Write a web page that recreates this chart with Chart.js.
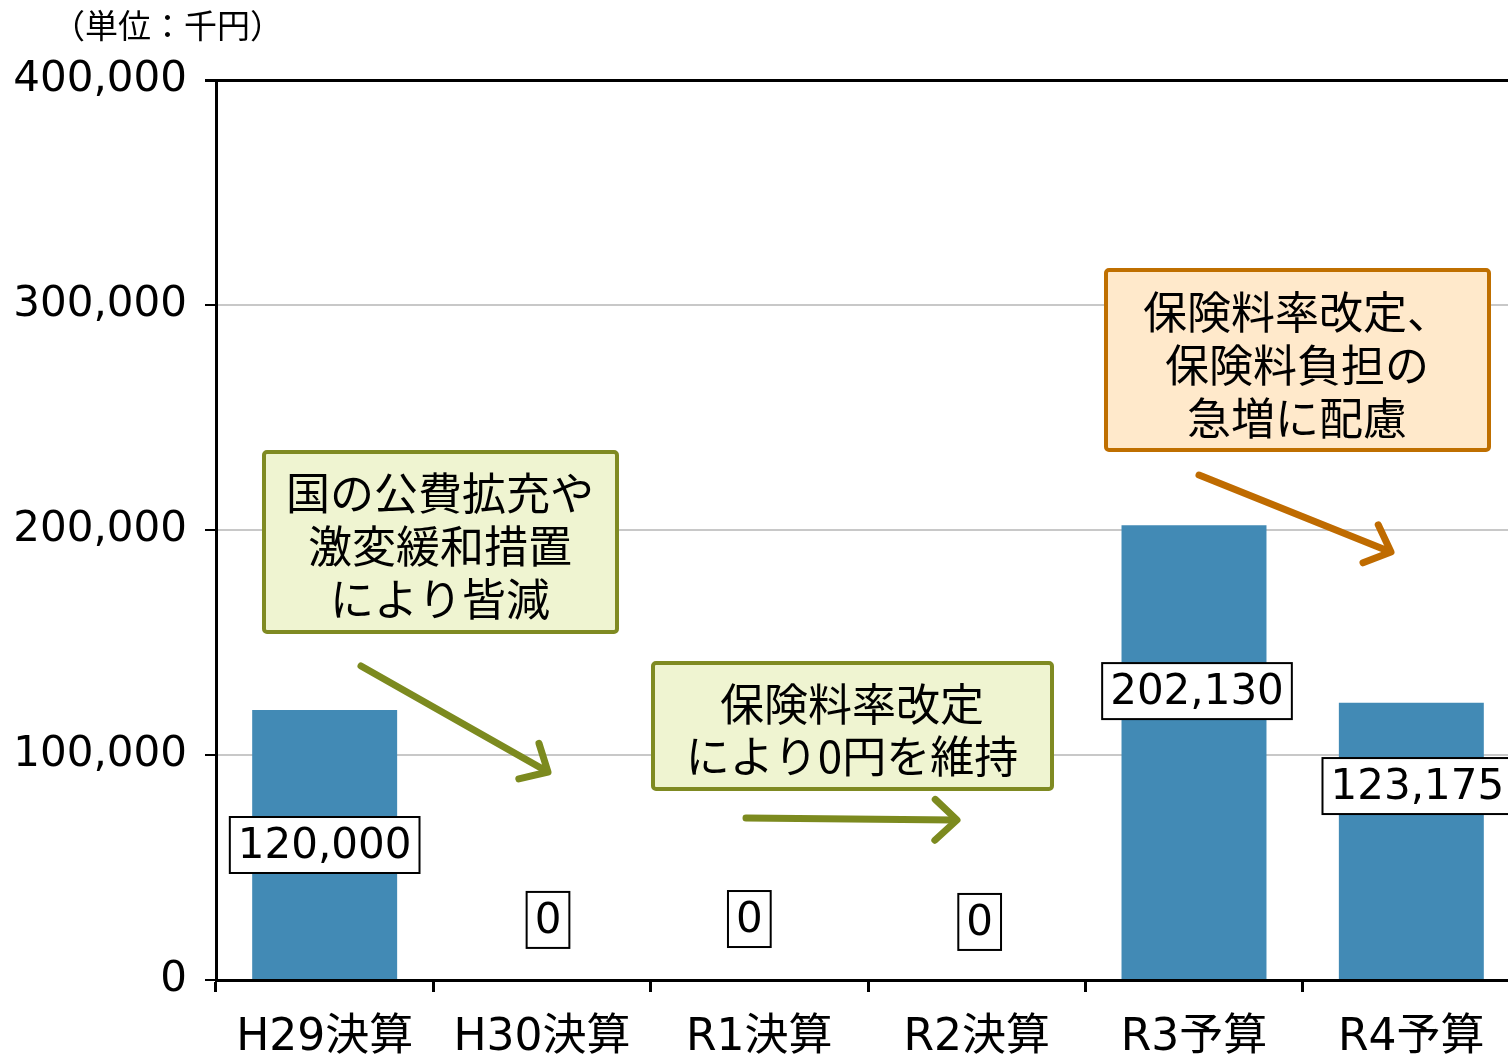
<!DOCTYPE html>
<html>
<head>
<meta charset="utf-8">
<script src="https://cdn.jsdelivr.net/npm/chart.js@4"></script>
<style>
  body { margin: 0; background: #fff; overflow: hidden; }
  #wrap { width: 1508px; height: 1055px; overflow: hidden; }
</style>
</head>
<body>
<div id="wrap"><canvas id="grafico" width="1520" height="1055"></canvas></div>
<script>
// datos
const categorias = ['H29決算', 'H30決算', 'R1決算', 'R2決算', 'R3予算', 'R4予算'];
const valores = [120000, 0, 0, 0, 202130, 123175];
const ticksY = [0, 100000, 200000, 300000, 400000];
const unidad = '（単位：千円）';
const nota1 = ['国の公費拡充や', '激変緩和措置', 'により皆減'];
const nota2 = ['保険料率改定', 'により0円を維持'];
const nota3 = ['保険料率改定、', '保険料負担の', '急増に配慮'];

const JP = '"Noto Sans CJK JP", sans-serif';
const NUM = '"DejaVu Sans", "Noto Sans CJK JP", sans-serif';

const etiquetas = {
    id: 'etiquetas',
    afterDatasetsDraw(chart, args, opts) {
        const ctx = chart.ctx;
        const meta = chart.getDatasetMeta(0);
        const y = chart.scales.y;
        ctx.save();
        ctx.font = opts.font;
        meta.data.forEach((bar, i) => {
            let txt = valores[i].toLocaleString('en-US');
            let cx = bar.x + opts.dx[i];
            let cy = y.getPixelForValue(opts.at[i]);
            let w = ctx.measureText(txt).width + 2 * opts.padX;
            let h = opts.h;
            ctx.fillStyle = '#fff';
            ctx.fillRect(cx - w / 2, cy - h / 2, w, h);
            ctx.strokeStyle = '#000';
            ctx.lineWidth = 2;
            ctx.strokeRect(cx - w / 2, cy - h / 2, w, h);
            ctx.fillStyle = '#000';
            ctx.textAlign = 'center';
            ctx.textBaseline = 'middle';
            ctx.fillText(txt, cx, cy + 2);
        });
        ctx.restore();
    }
};

function caja(ctx, x, y, w, h, borde, fondo, lineas, cx, top, paso) {
    ctx.beginPath();
    ctx.roundRect(x, y, w, h, 3);
    ctx.fillStyle = fondo;
    ctx.fill();
    ctx.lineWidth = 4;
    ctx.strokeStyle = borde;
    ctx.stroke();
    ctx.fillStyle = '#000';
    ctx.font = '44px ' + JP;
    ctx.textAlign = 'center';
    ctx.textBaseline = 'middle';
    lineas.forEach((l, i) => ctx.fillText(l, cx, top + i * paso));
}

function flecha(ctx, x1, y1, x2, y2, color) {
    let ang = Math.atan2(y2 - y1, x2 - x1);
    let L = 30, a = 0.75;
    ctx.strokeStyle = color;
    ctx.lineWidth = 7;
    ctx.lineCap = 'round';
    ctx.lineJoin = 'round';
    ctx.beginPath();
    ctx.moveTo(x1, y1);
    ctx.lineTo(x2 - 3 * Math.cos(ang), y2 - 3 * Math.sin(ang));
    ctx.stroke();
    ctx.beginPath();
    ctx.moveTo(x2 - L * Math.cos(ang - a), y2 - L * Math.sin(ang - a));
    ctx.lineTo(x2, y2);
    ctx.lineTo(x2 - L * Math.cos(ang + a), y2 - L * Math.sin(ang + a));
    ctx.stroke();
}

const notas = {
    id: 'notas',
    afterDraw(chart) {
        const ctx = chart.ctx;
        ctx.save();
        ctx.fillStyle = '#000';
        ctx.font = '33px ' + JP;
        ctx.textAlign = 'left';
        ctx.textBaseline = 'middle';
        ctx.fillText(unidad, 52, 25);

        caja(ctx, 264, 452, 353, 180, '#7f8a22', '#eff4d1', nota1, 440, 493, 53);
        caja(ctx, 653, 663, 399, 126, '#7f8a22', '#eff4d1', nota2, 852, 704, 52);
        caja(ctx, 1106, 270, 383, 180, '#bf6f00', '#ffe9cb', nota3, 1297, 312, 53);

        flecha(ctx, 361, 666, 548, 772, '#7c8a1f');
        flecha(ctx, 746, 818, 957, 820, '#7c8a1f');
        flecha(ctx, 1199, 475, 1391, 552, '#bf6b00');
        ctx.restore();
    }
};

let g = new Chart(document.querySelector('#grafico'), {
    type: 'bar',
    data: {
        labels: categorias,
        datasets: [{
            data: valores,
            backgroundColor: '#428ab5',
            barPercentage: 0.667,
            categoryPercentage: 1
        }]
    },
    options: {
        responsive: false,
        animation: false,
        devicePixelRatio: 1,
        layout: { padding: { top: 80, left: 0, right: 0, bottom: 0 } },
        plugins: {
            legend: { display: false },
            tooltip: { enabled: false },
            etiquetas: {
                font: '42px ' + NUM,
                padX: 8,
                h: 56,
                dx: [0, 6, -10, 3, 3, 6],
                at: [60000, 26700, 27100, 25800, 128400, 86200]
            }
        },
        scales: {
            x: {
                afterFit: s => { s.height = 75; },
                grid: {
                    drawOnChartArea: false,
                    drawTicks: true,
                    tickLength: 12,
                    color: '#000',
                    lineWidth: 3
                },
                border: { color: '#000', width: 3 },
                ticks: {
                    color: '#000',
                    padding: 20,
                    font: { family: NUM, size: 44 }
                }
            },
            y: {
                min: 0,
                max: 400000,
                afterFit: s => { s.width = 216; },
                afterBuildTicks: s => { s.ticks = ticksY.map(v => ({ value: v })); },
                grid: {
                    color: c => (c.tick && c.tick.value === 400000) ? '#000' : '#c8c8c8',
                    lineWidth: c => (c.tick && c.tick.value === 400000) ? 3 : 2,
                    tickColor: '#000',
                    tickLength: 11
                },
                border: { color: '#000', width: 3 },
                ticks: {
                    color: '#000',
                    padding: 18,
                    font: { family: NUM, size: 42 },
                    callback: v => v.toLocaleString('en-US')
                }
            }
        }
    },
    plugins: [etiquetas, notas]
});
</script>
</body>
</html>
